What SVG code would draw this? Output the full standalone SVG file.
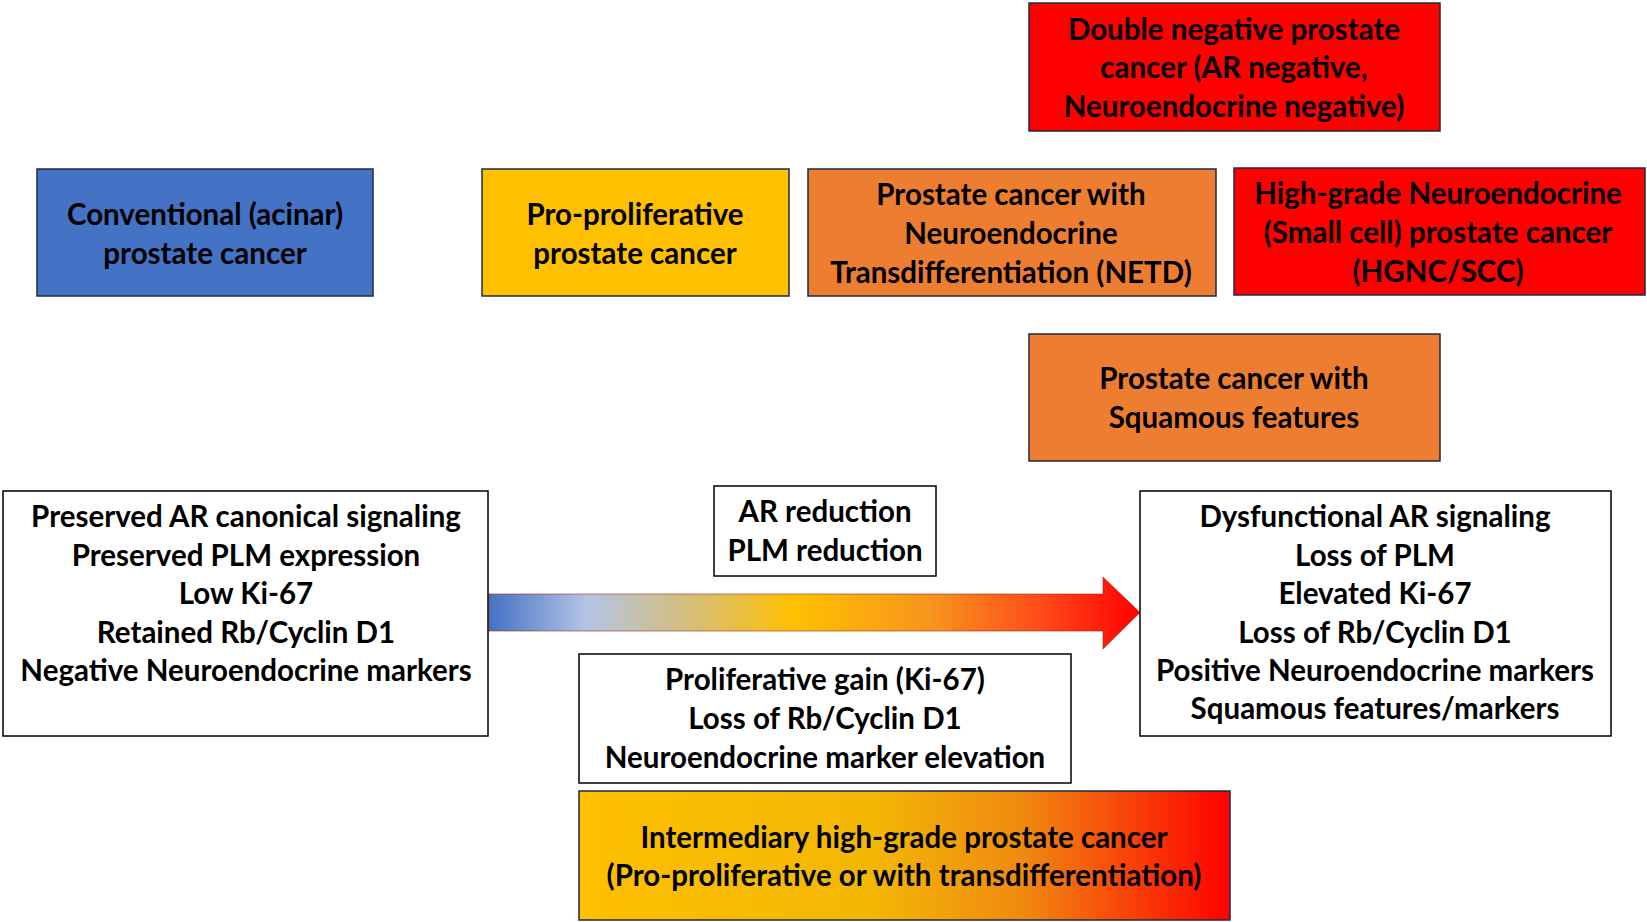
<svg xmlns="http://www.w3.org/2000/svg" width="1647" height="922" viewBox="0 0 1647 922">
<defs>
<linearGradient id="arrowGrad" x1="0" y1="0" x2="1" y2="0">
<stop offset="0" stop-color="#4472C4"/>
<stop offset="0.15" stop-color="#B4C4E4"/>
<stop offset="0.32" stop-color="#D8BE72"/>
<stop offset="0.47" stop-color="#FFC000"/>
<stop offset="0.68" stop-color="#F7941D"/>
<stop offset="0.85" stop-color="#FF4A1A"/>
<stop offset="1" stop-color="#FF0000"/>
</linearGradient>
<linearGradient id="interGrad" x1="0" y1="0" x2="1" y2="0">
<stop offset="0" stop-color="#FFC000"/>
<stop offset="0.45" stop-color="#F2B705"/>
<stop offset="0.68" stop-color="#F08A10"/>
<stop offset="1" stop-color="#FF0000"/>
</linearGradient>
</defs>
<style>
.box{stroke:#1F2A44;stroke-width:1.5}
.wbox{fill:#FFFFFF;stroke:#000000;stroke-width:1.5}
.blue{fill:#4472C4}
.yellow{fill:#FFC000}
.orange{fill:#ED7D31}
.red{fill:#FF0000}
text{font-family:Lato,"Liberation Sans",sans-serif;font-weight:bold;font-size:29.5px;fill:#000000;text-anchor:middle}
</style>
<rect width="1647" height="922" fill="#FFFFFF"/>

<g id="connectors">
<path d="M489,594 L1103,594 L1103,577 L1140,612.5 L1103,649 L1103,631 L489,631 Z" fill="url(#arrowGrad)" stroke="#9A2A1A" stroke-width="1" stroke-opacity="0.6"/>
</g>

<g id="node-double-negative">
<rect class="box red" x="1029" y="3" width="411" height="128"/>
<text x="1234" y="40">Double negative prostate</text>
<text x="1234" y="78">cancer (AR negative,</text>
<text x="1234" y="117">Neuroendocrine negative)</text>
</g>

<g id="node-conventional">
<rect class="box blue" x="37" y="169" width="336" height="127"/>
<text x="205" y="225">Conventional (acinar)</text>
<text x="205" y="264">prostate cancer</text>
</g>

<g id="node-proproliferative">
<rect class="box yellow" x="482" y="169" width="307" height="127"/>
<text x="635" y="225">Pro-proliferative</text>
<text x="635" y="264">prostate cancer</text>
</g>

<g id="node-netd">
<rect class="box orange" x="808" y="169" width="408" height="127"/>
<text x="1011" y="205">Prostate cancer with</text>
<text x="1011" y="244">Neuroendocrine</text>
<text x="1011" y="283">Transdifferentiation (NETD)</text>
</g>

<g id="node-hgnc">
<rect class="box red" x="1234" y="168" width="411" height="127"/>
<text x="1438" y="204">High-grade Neuroendocrine</text>
<text x="1438" y="243">(Small cell) prostate cancer</text>
<text x="1438" y="282">(HGNC/SCC)</text>
</g>

<g id="node-squamous">
<rect class="box orange" x="1029" y="334" width="411" height="127"/>
<text x="1234" y="389">Prostate cancer with</text>
<text x="1234" y="428">Squamous features</text>
</g>

<g id="node-left-features">
<rect class="wbox" x="3" y="491" width="485" height="245"/>
<text x="246" y="527">Preserved AR canonical signaling</text>
<text x="246" y="566">Preserved PLM expression</text>
<text x="246" y="604">Low Ki-67</text>
<text x="246" y="643">Retained Rb/Cyclin D1</text>
<text x="246" y="681">Negative Neuroendocrine markers</text>
</g>

<g id="node-ar-reduction">
<rect class="wbox" x="714" y="486" width="222" height="90"/>
<text x="825" y="522">AR reduction</text>
<text x="825" y="561">PLM reduction</text>
</g>

<g id="node-right-features">
<rect class="wbox" x="1140" y="491" width="471" height="245"/>
<text x="1375" y="527">Dysfunctional AR signaling</text>
<text x="1375" y="566">Loss of PLM</text>
<text x="1375" y="604">Elevated Ki-67</text>
<text x="1375" y="643">Loss of Rb/Cyclin D1</text>
<text x="1375" y="681">Positive Neuroendocrine markers</text>
<text x="1375" y="719">Squamous features/markers</text>
</g>

<g id="node-proliferative-gain">
<rect class="wbox" x="579" y="654" width="492" height="129"/>
<text x="825" y="690">Proliferative gain (Ki-67)</text>
<text x="825" y="729">Loss of Rb/Cyclin D1</text>
<text x="825" y="768">Neuroendocrine marker elevation</text>
</g>

<g id="node-intermediary">
<rect class="box" fill="url(#interGrad)" x="579" y="791" width="651" height="129"/>
<text x="904" y="848">Intermediary high-grade prostate cancer</text>
<text x="904" y="886">(Pro-proliferative or with transdifferentiation)</text>
</g>
</svg>
